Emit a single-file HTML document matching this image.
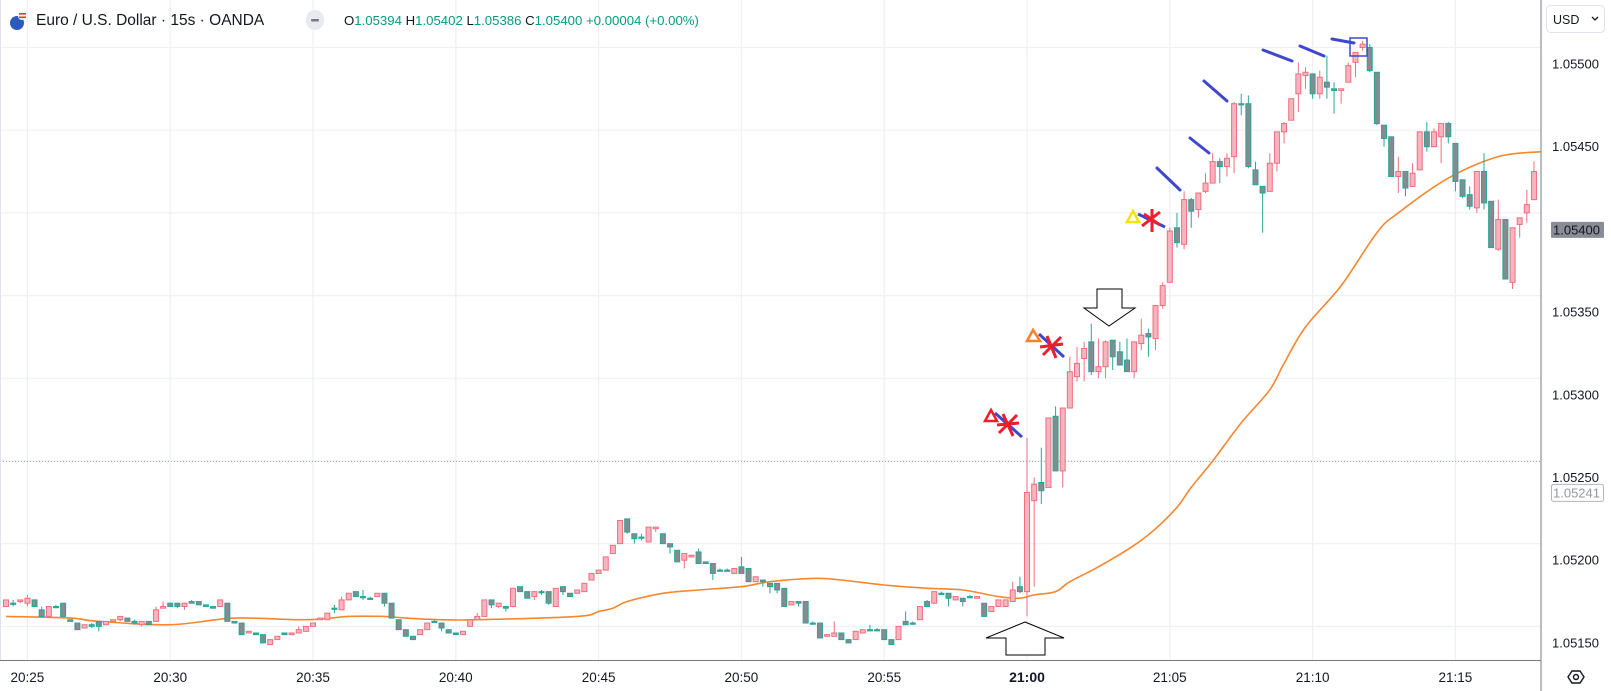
<!DOCTYPE html>
<html><head><meta charset="utf-8"><style>
html,body{margin:0;padding:0;background:#fff;width:1611px;height:691px;overflow:hidden}
svg{display:block;font-family:"Liberation Sans",sans-serif}
</style></head><body>
<svg id="chart" width="1611" height="691" viewBox="0 0 1611 691" xmlns="http://www.w3.org/2000/svg">
<rect x="0" y="0" width="1611" height="691" fill="#fff"/>
<g id="grid"></g>
<line x1="0" y1="0" x2="0" y2="660" stroke="#e0e3eb" stroke-width="2"/>
<g id="maLayer"></g>
<g id="candles"></g>
<g id="annotations">
  <polygon points="985,421 991,410 997,421" fill="none" stroke="#f01e2c" stroke-width="2.5"/>
  <line x1="995" y1="413" x2="1022" y2="437" stroke="#3f48cc" stroke-width="3"/>
  <g stroke="#f01e2c" stroke-width="3"><line x1="997" y1="425" x2="1019" y2="423"/><line x1="1003" y1="414" x2="1013" y2="436"/><line x1="999" y1="433" x2="1017" y2="415"/></g>
  <polygon points="1027,341 1033,330 1040,341" fill="none" stroke="#ff7f27" stroke-width="2.5"/>
  <line x1="1039" y1="334" x2="1064" y2="357" stroke="#3f48cc" stroke-width="3"/>
  <g stroke="#f01e2c" stroke-width="3"><line x1="1040" y1="347" x2="1063" y2="344"/><line x1="1047" y1="336" x2="1056" y2="358"/><line x1="1043" y1="355" x2="1061" y2="337"/></g>
  <polygon points="1127,222 1133,211 1139,222" fill="none" stroke="#f5e400" stroke-width="2.5"/>
  <line x1="1138" y1="214" x2="1165" y2="227" stroke="#3f48cc" stroke-width="3"/>
  <g stroke="#f01e2c" stroke-width="3"><line x1="1152" y1="209" x2="1152" y2="232"/><line x1="1142" y1="226" x2="1160" y2="212"/><line x1="1144" y1="214" x2="1160" y2="225"/></g>
  <g stroke="#3f48cc" stroke-width="3" stroke-linecap="round">
    <line x1="1157" y1="168" x2="1180" y2="190"/>
    <line x1="1190" y1="138" x2="1209" y2="153"/>
    <line x1="1204" y1="81" x2="1227" y2="101"/>
    <line x1="1263" y1="50" x2="1292" y2="61"/>
    <line x1="1300" y1="46" x2="1324" y2="56"/>
    <line x1="1332" y1="39" x2="1354" y2="43"/>
  </g>
  <rect x="1350" y="38" width="17" height="18" fill="none" stroke="#3f48cc" stroke-width="1.5"/>
  <polygon points="1097,289 1122,289 1122,308 1135,308 1109,326 1084,308 1097,308" fill="#fff" stroke="#000" stroke-width="1"/>
  <polygon points="1025,622 1064,638 1045,638 1045,655 1006,655 1006,638 986,638" fill="#fff" stroke="#000" stroke-width="1"/>
</g>
<rect x="1541" y="0" width="70" height="691" fill="#fff"/>
<rect x="0" y="660" width="1541" height="31" fill="#fff"/>
<line x1="1541" y1="0" x2="1541" y2="691" stroke="#787b86" stroke-width="1"/>
<line x1="0" y1="660.5" x2="1541" y2="660.5" stroke="#787b86" stroke-width="1"/>
<g id="yAxis"></g>
<g id="xAxis"></g>
<g>
  <rect x="1546.5" y="5.5" width="58" height="27" rx="4" fill="#fff" stroke="#e0e3eb"/>
  <text x="1553" y="24" font-size="12.5" fill="#131722">USD</text>
  <path d="M1592 17 l3 3 l3 -3" fill="none" stroke="#131722" stroke-width="1.3"/>
</g>
<g transform="translate(1576,677)">
  <path d="M-8 0 L-4 -6 L4 -6 L8 0 L4 6 L-4 6 Z" fill="none" stroke="#131722" stroke-width="1.4"/>
  <circle r="2.5" fill="none" stroke="#131722" stroke-width="1.4"/>
</g>
<g>
  <g>
    <circle cx="17" cy="23" r="7" fill="#2a5bbf"/>
    <circle cx="22" cy="16" r="4" fill="#f2f2f2"/>
    <rect x="19" y="13" width="7" height="1.6" fill="#e53935"/>
    <rect x="19" y="16.5" width="7" height="1.6" fill="#e53935"/>
  </g>
  <text x="36" y="25" font-size="15.5" fill="#131722">Euro / U.S. Dollar · 15s · OANDA</text>
  <rect x="306" y="10" width="18" height="20" rx="9" fill="#e8eaef"/>
  <rect x="311" y="19" width="8" height="2.5" rx="1" fill="#787b86"/>
  <text x="344" y="25" font-size="13.2"><tspan fill="#131722">O</tspan><tspan fill="#089981">1.05394</tspan><tspan fill="#131722"> H</tspan><tspan fill="#089981">1.05402</tspan><tspan fill="#131722"> L</tspan><tspan fill="#089981">1.05386</tspan><tspan fill="#131722"> C</tspan><tspan fill="#089981">1.05400 +0.00004 (+0.00%)</tspan></text>
</g>
</svg>
<script>
// ---- data (values in points: price = 1.05 + v/100000) ----
const opens = [172,174,175,174,176,170,166,172,174,164,162,159,161,163,161,163,164,165,163,161,163,163,171,174,174,172,175,175,173,172,172,174,163,162,156,156,155,149,152,156,155,156,157,160,164,164,171,170,176,181,178,177,178,180,174,164,158,154,155,158,163,162,158,156,155,160,164,166,176,172,172,172,184,181,178,181,181,172,184,180,180,181,188,192,194,204,210,225,216,214,211,219,216,210,206,200,202,205,199,198,194,194,192,196,195,187,188,186,186,183,173,175,175,162,162,154,154,156,152,152,156,158,158,158,152,152,163,162,164,175,174,180,180,176,177,178,177,174,169,172,172,175,184,181,236,247,244,287,254,292,311,322,332,314,317,333,326,321,314,331,337,334,354,368,401,391,418,412,423,428,441,438,444,476,476,436,426,423,440,459,466,482,493,494,482,489,485,484,489,501,510,510,495,463,456,432,435,426,436,459,450,456,464,452,430,421,413,435,417,388,406,368,403,410,418];
const closes = [176,174,176,177,172,166,172,172,166,163,158,161,160,160,163,164,166,163,162,163,161,170,172,172,172,174,174,173,172,171,176,163,162,155,157,155,150,152,154,155,156,158,160,162,165,168,171,176,180,178,178,177,180,174,165,158,154,152,158,162,163,159,156,155,157,164,166,176,173,174,171,183,181,177,181,181,174,183,181,178,182,186,192,194,202,209,224,217,213,214,220,220,210,208,199,204,203,198,198,192,194,194,195,192,187,190,187,184,182,172,175,174,162,162,153,155,156,152,150,157,158,158,158,152,149,160,161,162,172,172,181,180,177,178,175,178,178,166,172,176,176,182,181,241,246,242,286,254,292,314,319,328,314,317,332,323,318,314,332,336,335,354,366,399,392,418,411,422,428,441,438,443,476,476,438,427,422,440,459,464,479,494,495,482,492,486,484,485,499,507,512,496,464,455,432,435,425,434,459,450,459,464,456,429,420,414,435,416,389,406,370,401,407,415,435];
const highs = [176,176,176,179,176,172,172,173,174,164,162,161,162,163,163,164,166,165,164,163,163,172,175,174,174,174,176,175,173,172,176,174,163,162,157,156,155,152,154,156,156,160,160,162,165,168,173,178,180,181,182,178,180,180,174,164,158,154,158,162,164,162,158,156,157,164,168,176,176,174,172,183,184,181,181,182,181,183,184,180,182,186,192,194,202,209,224,225,216,216,220,220,216,210,206,204,203,207,199,198,195,195,195,202,195,190,188,186,186,183,175,175,175,163,162,155,163,156,152,157,158,161,159,158,152,160,169,163,172,176,181,181,180,178,177,179,178,174,172,176,176,187,190,274,250,268,286,293,292,323,329,332,343,334,333,333,332,334,332,346,340,354,368,401,410,423,419,422,434,446,443,446,477,482,481,441,426,446,459,465,479,501,498,494,496,505,489,485,501,507,514,512,495,463,456,444,435,440,459,465,461,464,465,452,430,426,435,446,417,418,406,401,407,424,441];
const lows = [172,172,174,172,172,166,166,171,166,163,158,159,159,157,161,163,163,163,161,160,161,163,171,172,171,170,174,173,172,171,172,163,162,155,156,155,150,149,152,155,155,156,157,160,164,164,168,170,176,178,176,176,178,172,165,158,154,152,155,158,162,157,156,155,155,160,164,166,171,171,169,172,181,177,176,179,173,172,179,178,180,181,188,192,194,204,210,216,210,212,211,217,210,204,199,195,202,198,198,188,193,193,192,192,187,187,184,180,180,172,173,172,162,161,153,154,154,152,150,152,156,158,157,152,149,152,161,161,164,172,174,179,172,176,172,177,177,166,169,172,172,175,180,166,184,234,244,254,244,292,308,308,312,310,310,315,318,314,310,327,323,327,352,368,389,388,401,407,422,428,428,432,434,469,437,427,398,423,435,452,466,471,485,479,479,479,470,476,489,492,508,495,463,450,432,422,420,426,436,447,450,440,452,423,419,412,410,412,389,387,370,364,395,404,418];
const maIdx = [0,9,13,23,32,42,48,53,56,61,66,80,83,85,87,92,97,103,107,113,117,123,129,134,139,142,144,147,149,153,158,161,164,166,169,173,177,179,182,187,192,195,202,209,215];
const maVals = [166,165,163,161,165,164,166,166,165,164,164,166,169,171,175,180,182,184,187,189,188,185,183,182,178,177,179,181,187,196,209,219,232,244,260,283,303,319,341,366,398,410,431,444,447];
const priceTicks = [500,450,400,350,300,250,200,150];
const priceTickLabels = ["1.05500","1.05450","1.05400","1.05350","1.05300","1.05250","1.05200","1.05150"];
const timeTickIdx = [3,23,43,63,83,103,123,143,163,183,203];
const timeTickLabels = ["20:25","20:30","20:35","20:40","20:45","20:50","20:55","21:00","21:05","21:10","21:15"];
const lastValue = 400;
const priceLineValue = 241;

// ---- axis functions ----
const X0 = 6, DX = 7.14, Y0 = 64, TOPV = 500, PXPT = 1.654;
function xs(i){ return X0 + i*DX; }
function ys(v){ return Y0 + (TOPV - v)*PXPT; }
const NS = "http://www.w3.org/2000/svg";
function mk(tag, attrs, parent){
  const e = document.createElementNS(NS, tag);
  for (const k in attrs) e.setAttribute(k, attrs[k]);
  parent.appendChild(e); return e;
}
const grid = document.getElementById('grid');
priceTicks.forEach(v=>{
  const gy = ys(v) - 16.5;
  const l = mk('line',{x1:0,x2:1541,y1:gy,y2:gy,stroke:'#edf0f4','stroke-width':1.2},grid);
  
  
});
timeTickIdx.forEach(i=>{
  const l = mk('line',{x1:xs(i),x2:xs(i),y1:0,y2:660,stroke:'#edf0f4','stroke-width':1.2},grid);
  
  
});
const pl = mk('line',{x1:0,x2:1541,y1:ys(priceLineValue)-31,y2:ys(priceLineValue)-31,stroke:'#9aa0aa','stroke-width':1,'stroke-dasharray':'1 2'},grid);



// moving average (smooth Catmull-Rom through points)
const maLayer = document.getElementById('maLayer');
const pts = maIdx.map((i,k)=>[xs(i), ys(maVals[k])]);
let d = 'M' + pts[0][0].toFixed(1) + ' ' + pts[0][1].toFixed(1);
for (let k=0;k<pts.length-1;k++){
  const p0 = pts[Math.max(k-1,0)], p1 = pts[k], p2 = pts[k+1], p3 = pts[Math.min(k+2,pts.length-1)];
  const c1x = p1[0] + (p2[0]-p0[0])/6, c1y = p1[1] + (p2[1]-p0[1])/6;
  const c2x = p2[0] - (p3[0]-p1[0])/6, c2y = p2[1] - (p3[1]-p1[1])/6;
  d += ' C' + c1x.toFixed(1)+' '+c1y.toFixed(1)+' '+c2x.toFixed(1)+' '+c2y.toFixed(1)+' '+p2[0].toFixed(1)+' '+p2[1].toFixed(1);
}
const ma = mk('path',{d:d,fill:'none',stroke:'#f7862f','stroke-width':1.6,'stroke-linejoin':'round'},maLayer);



// candles
const cg = document.getElementById('candles');
opens.forEach((o,i)=>{
  const c = closes[i], up = c > o;
  const x = xs(i);
  const g = mk('g',{},cg);
  
  
  mk('line',{x1:x,x2:x,y1:ys(highs[i]),y2:ys(lows[i]),stroke:up?'#ef6f7d':'#26a69a','stroke-width':1},g);
  const top = ys(Math.max(o,c)), bot = ys(Math.min(o,c));
  const h = Math.max(bot-top, 1.2);
  mk('rect',{x:x-2.5,y:top,width:5,height:h,fill:up?'#f6b4c0':'#868c8e',stroke:up?'#ef6f7d':'#26a69a','stroke-width':1},g);
});

// y axis
const ya = document.getElementById('yAxis');
priceTicks.forEach((v,k)=>{
  const t = mk('text',{x:1552,y:ys(v)+4.5,'font-size':13,fill:'#131722'},ya);
  t.textContent = priceTickLabels[k];
  
  
});
const lb = mk('rect',{x:1551,y:ys(lastValue)-7.5,width:53,height:16,fill:'#8a8d95',rx:1},ya);


const lt = mk('text',{x:1553,y:ys(lastValue)+5,'font-size':13,fill:'#131722'},ya);
lt.textContent = (1.05 + lastValue/100000).toFixed(5);


const pb = mk('rect',{x:1551.5,y:ys(priceLineValue)-8,width:52,height:17,fill:'#fff',stroke:'#b2b5be',rx:2},ya);


const pt = mk('text',{x:1553,y:ys(priceLineValue)+5,'font-size':13,fill:'#9598a1'},ya);
pt.textContent = (1.05 + priceLineValue/100000).toFixed(5);



// x axis
const xa = document.getElementById('xAxis');
timeTickIdx.forEach((i,k)=>{
  const bold = timeTickLabels[k] === '21:00';
  const t = mk('text',{x:xs(i),y:682,'font-size':bold?14:13.5,'font-weight':bold?'bold':'normal',fill:'#131722','text-anchor':'middle'},xa);
  t.textContent = timeTickLabels[k];
  
  
});
</script>
</body></html>
